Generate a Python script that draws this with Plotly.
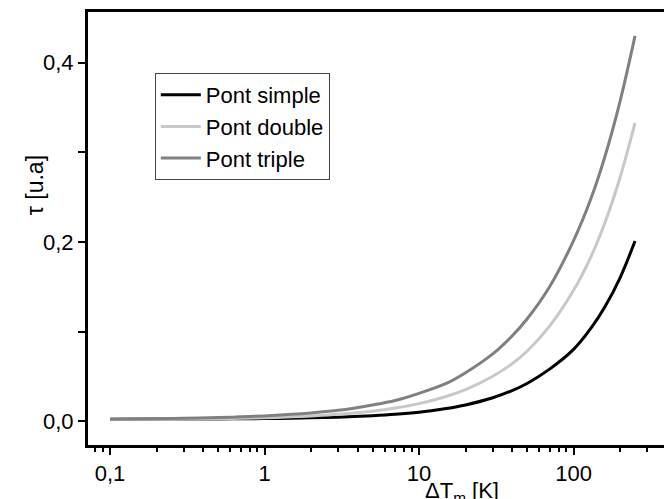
import plotly.graph_objects as go
import numpy as np

# Data
dT = [0.1, 0.2, 0.3, 0.5, 0.7, 1, 1.5, 2, 3, 5, 7, 10, 15, 20, 30, 40, 50, 70, 100, 130, 160, 200, 250]
tau_simple = [0.0021, 0.0022, 0.0022, 0.0024, 0.0026, 0.0028, 0.0032, 0.0036, 0.0044, 0.0060, 0.0075,
              0.0099, 0.014, 0.018, 0.026, 0.034, 0.042, 0.058, 0.080, 0.104, 0.128, 0.160, 0.201]
tau_double = [0.0018, 0.0020, 0.0022, 0.0027, 0.0031, 0.0037, 0.0047, 0.0057, 0.0075, 0.011, 0.0145,
              0.0195, 0.0275, 0.035, 0.050, 0.064, 0.078, 0.106, 0.146, 0.184, 0.222, 0.272, 0.333]
tau_triple = [0.0021, 0.0026, 0.0031, 0.0039, 0.0047, 0.0058, 0.0075, 0.0091, 0.012, 0.018, 0.023,
              0.031, 0.042, 0.054, 0.075, 0.095, 0.114, 0.150, 0.2015, 0.249, 0.296, 0.357, 0.430]
series_names = ["Pont simple", "Pont double", "Pont triple"]
series_colors = ["#000000", "#c8c8c8", "#808080"]

x_tickvals = [0.1, 1, 10, 100]
x_ticktext = ["0,1", "1", "10", "100"]
y_tickvals = [0.0, 0.2, 0.4]
y_ticktext = ["0,0", "0,2", "0,4"]
y_minor = [0.1, 0.3]

minor_x = [m * 10.0 ** e for e in range(-2, 3) for m in range(2, 10)]

FONT = "Liberation Sans, Arial, sans-serif"

fig = go.Figure()
for name, ys, col in zip(series_names, [tau_simple, tau_double, tau_triple], series_colors):
    fig.add_trace(go.Scatter(x=dT, y=ys, mode="lines", name=name,
                             line=dict(color=col, width=3, shape="spline", smoothing=1.0)))

fig.update_layout(
    width=664, height=499,
    margin=dict(l=88, r=0, t=12, b=54),
    paper_bgcolor="white", plot_bgcolor="white",
    font=dict(family=FONT, size=22, color="black"),
    showlegend=True,
    legend=dict(x=0.116, y=0.859, xanchor="left", yanchor="top",
                bgcolor="white", bordercolor="#444444", borderwidth=1,
                font=dict(size=22, family=FONT), tracegroupgap=0, itemwidth=40),
    xaxis=dict(type="log", range=[np.log10(0.072), np.log10(385)],
               showgrid=False, zeroline=False, showline=True, linecolor="black", linewidth=3,
               mirror=True, ticks="outside", ticklen=7, tickwidth=2, tickcolor="black",
               tickvals=x_tickvals, ticktext=x_ticktext, tickfont=dict(size=22),
               minor=dict(tickvals=minor_x, ticks="outside", ticklen=4, tickwidth=2, tickcolor="black")),
    yaxis=dict(range=[-0.0267, 0.4567], showgrid=False, zeroline=False, showline=True,
               linecolor="black", linewidth=3, ticks="outside", ticklen=7, tickwidth=2,
               tickcolor="black", tickvals=y_tickvals, ticktext=y_ticktext, tickfont=dict(size=22),
               minor=dict(tickvals=y_minor, ticks="outside", ticklen=7, tickwidth=2, tickcolor="black")),
)

fig.add_annotation(text="τ [u.a]", xref="paper", yref="paper",
                   x=-0.092, y=0.60, xanchor="center", yanchor="middle", textangle=-90,
                   showarrow=False, font=dict(size=23, family=FONT))
fig.add_annotation(text="ΔT<sub>m</sub> [K]", xref="paper", yref="paper",
                   x=0.649, y=-0.072, xanchor="center", yanchor="top", showarrow=False,
                   font=dict(size=22, family=FONT))

fig.write_html("out.html")
